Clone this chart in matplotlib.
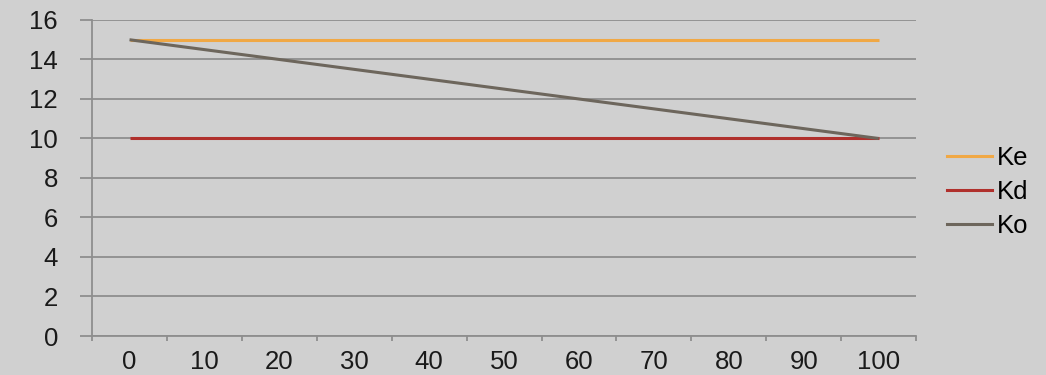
import numpy as np
import matplotlib
matplotlib.use('Agg')
import matplotlib.pyplot as plt
from matplotlib.lines import Line2D

plt.rcParams['font.family'] = ['Liberation Sans', 'DejaVu Sans']

categories = ['0', '10', '20', '30', '40', '50', '60', '70', '80', '90', '100']
ke = [15, 15, 15, 15, 15, 15, 15, 15, 15, 15, 15]
kd = [10, 10, 10, 10, 10, 10, 10, 10, 10, 10, 10]
ko = [15, 14.5, 14, 13.5, 13, 12.5, 12, 11.5, 11, 10.5, 10]
y_ticks = [0, 2, 4, 6, 8, 10, 12, 14, 16]

bg = '#d0d0d0'
grid_c = '#8e8e8e'
colors = {'Ke': '#f0a845', 'Kd': '#b0302c', 'Ko': '#6d665c'}
fs = 18.5

fig = plt.figure(figsize=(10.46, 3.75), dpi=100, facecolor=bg)
ax = fig.add_axes([0.088, 0.104, 0.7878, 0.8427])
ax.set_facecolor(bg)

x = np.arange(len(categories))
for name, vals in [('Ke', ke), ('Kd', kd), ('Ko', ko)]:
    ax.plot(x, vals, color=colors[name], linewidth=2.2, label=name, solid_capstyle='butt')

ax.set_xlim(-0.5, len(categories) - 0.5)
ax.set_ylim(0, 16)
ax.set_yticks(y_ticks)
ax.set_xticks(x)
ax.set_xticklabels(categories)
ax.set_xticks(np.arange(len(categories) + 1) - 0.5, minor=True)

ax.yaxis.grid(True, color=grid_c, linewidth=1.3)
ax.set_axisbelow(True)
for s in ['top', 'right']:
    ax.spines[s].set_visible(False)
for s in ['left', 'bottom']:
    ax.spines[s].set_color(grid_c)
    ax.spines[s].set_linewidth(1.3)

ax.tick_params(axis='y', length=8.6, width=1.3, color=grid_c, pad=16, labelsize=fs, labelcolor='#1a1a1a')
ax.tick_params(axis='x', which='major', length=0, pad=10, labelsize=fs, labelcolor='#1a1a1a')
ax.tick_params(axis='x', which='minor', length=3.5, width=1.3, color=grid_c)

handles = [Line2D([], [], color=colors[n], linewidth=2.2) for n in ['Ke', 'Kd', 'Ko']]
fig.legend(handles, ['Ke', 'Kd', 'Ko'], loc='center left', bbox_to_anchor=(0.905, 0.488),
           frameon=False, fontsize=fs, handlelength=1.75, handletextpad=0.2,
           labelspacing=0.38, borderaxespad=0, borderpad=0)

fig.savefig('out.png', dpi=100, facecolor=bg)
